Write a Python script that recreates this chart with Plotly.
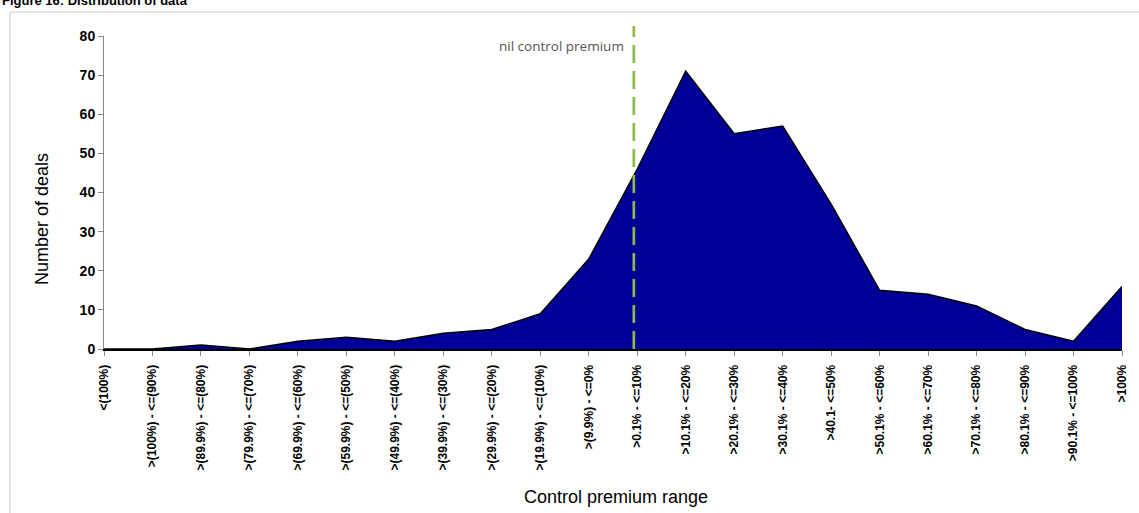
import plotly.graph_objects as go

categories = [
    "<(100%)", ">(100%) - <=(90%)", ">(89.9%) - <=(80%)", ">(79.9%) - <=(70%)",
    ">(69.9%) - <=(60%)", ">(59.9%) - <=(50%)", ">(49.9%) - <=(40%)",
    ">(39.9%) - <=(30%)", ">(29.9%) - <=(20%)", ">(19.9%) - <=(10%)",
    ">(9.9%) - <=0%", ">0.1% - <=10%", ">10.1% - <=20%", ">20.1% - <=30%",
    ">30.1% - <=40%", ">40.1- <=50%", ">50.1% - <=60%", ">60.1% - <=70%",
    ">70.1% - <=80%", ">80.1% - <=90%", ">90.1% - <=100%", ">100%",
]
deals = [0, 0, 1, 0, 2, 3, 2, 4, 5, 9, 23, 46, 71, 55, 57, 37, 15, 14, 11, 5, 2, 16]
y_ticks = [0, 10, 20, 30, 40, 50, 60, 70, 80]
nil_position = 10.93

W, H = 1139, 513
L, R, T, B = 104, 17, 36, 164
PW, PH = W - L - R, H - T - B

def px_x(p):
    return (p - L) / PW

def px_y(p):
    return (H - B - p) / PH

x_idx = list(range(len(categories)))
FONT = "Arial, 'Liberation Sans', sans-serif"

fig = go.Figure()
fig.add_trace(go.Scatter(
    x=x_idx, y=deals, mode="lines", fill="tozeroy",
    fillcolor="#000096", line=dict(color="#000000", width=1.5),
    hoverinfo="skip", showlegend=False,
))

fig.update_layout(
    width=W, height=H,
    margin=dict(l=L, r=R, t=T, b=B, autoexpand=False),
    paper_bgcolor="white", plot_bgcolor="white",
    font=dict(family=FONT, color="#000"),
    xaxis=dict(
        range=[0, len(categories) - 1], tickmode="array", tickvals=x_idx,
        ticktext=[f"<b>{c}</b>" for c in categories], tickangle=-90,
        tickfont=dict(size=12, family=FONT), ticks="outside", ticklen=5,
        tickcolor="#888", showgrid=False, zeroline=False, ticklabelstandoff=4,
        showline=True, linecolor="#000", linewidth=2,
    ),
    yaxis=dict(
        range=[0, 80], tickmode="array", tickvals=y_ticks,
        ticktext=[f"<b>{v}</b>" for v in y_ticks],
        tickfont=dict(size=14, family=FONT), ticks="outside", ticklen=5,
        tickcolor="#888", showgrid=False, zeroline=False,
        showline=True, linecolor="#888", linewidth=1,
    ),
    shapes=[
        dict(type="rect", xref="paper", yref="paper",
             x0=px_x(10), x1=px_x(W + 20), y0=px_y(H + 20), y1=px_y(12),
             line=dict(color="#c8c8c8", width=1), fillcolor="rgba(0,0,0,0)",
             layer="below"),
        dict(type="line", xref="x", yref="paper",
             x0=nil_position, x1=nil_position, y0=0, y1=px_y(26),
             line=dict(color="#8DBA42", width=2.7, dash="18px,8px")),
    ],
    annotations=[
        dict(text="<b>Figure 16: Distribution of data</b>", xref="paper", yref="paper",
             x=px_x(0), y=px_y(0), xanchor="left", yanchor="middle",
             showarrow=False, font=dict(size=13, family=FONT, color="#000")),
        dict(text="nil control premium", xref="paper", yref="paper",
             x=px_x(626), y=px_y(46), xanchor="right", yanchor="middle",
             showarrow=False, font=dict(size=13.5, family="'Open Sans', sans-serif", color="#555")),
        dict(text="Number of deals", xref="paper", yref="paper",
             x=px_x(42), y=px_y(219), xanchor="center", yanchor="middle",
             textangle=-90, showarrow=False, font=dict(size=18, family=FONT, color="#000")),
        dict(text="Control premium range", xref="paper", yref="paper",
             x=px_x(616), y=px_y(497), xanchor="center", yanchor="middle",
             showarrow=False, font=dict(size=18, family=FONT, color="#000")),
    ],
)

fig.write_html("out.html", config={"displayModeBar": False},
               post_script="document.body.style.margin='0';")
